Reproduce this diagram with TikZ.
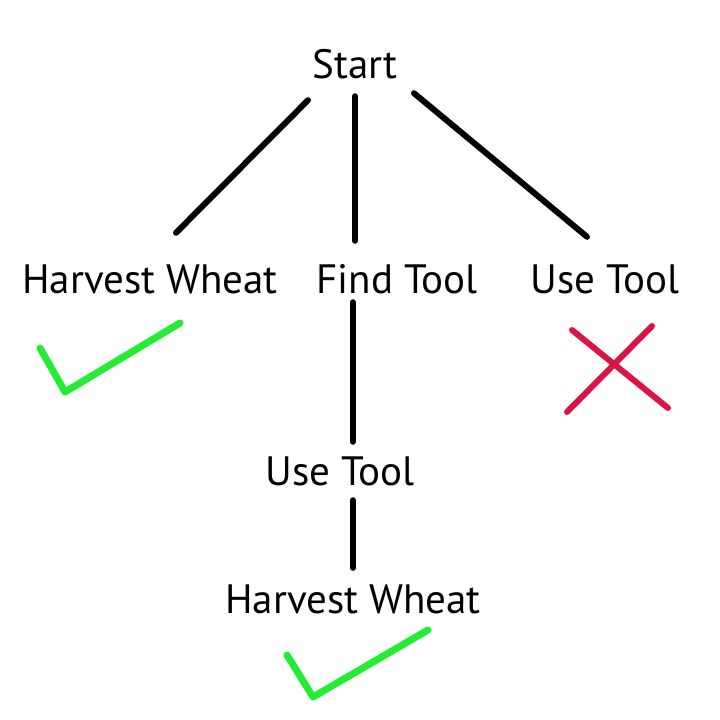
\documentclass[tikz,border=0pt]{standalone}
\usepackage{fontspec}
\setmainfont{PT Sans}
\usetikzlibrary{positioning,calc}
\definecolor{okgreen}{RGB}{34,236,51}
\definecolor{badred}{RGB}{220,20,70}

\begin{document}
\begin{tikzpicture}[x=1pt,y=-1pt,
    every node/.style={anchor=base,inner sep=0pt,text height=30pt,text depth=0pt,
      font=\fontsize{41}{41}\selectfont},
    branch/.style={line width=6pt,line cap=round,black},
    tick/.style={line width=7pt,line cap=round,line join=round,okgreen},
    cross/.style={line width=6pt,line cap=round,badred}]
    \useasboundingbox (0,0) rectangle (720,720);

    % levels of the tree
    \node (start) at (355,78) {Start};
    \node (hw1) at (150,293) {Harvest Wheat};
    \node (find) at (397,293) {Find Tool};
    \node (use1) at (605,293) {Use Tool};
    \node (use2) at (340,485) {Use Tool};
    \node (hw2) at (353,613) {Harvest Wheat};

    % connections
    \draw[branch] ([shift={(-47,22)}]start.south) -- ([shift={(26,-30)}]hw1.north);
    \draw[branch] ([shift={(0,18)}]start.south) -- ([shift={(0,-22)}]start.south |- find.north);
    \draw[branch] ([shift={(59,15)}]start.south) -- ([shift={(-18,-26)}]use1.north);
    \draw[branch] ([shift={(0,9)}]hw2 |- find.south) -- ([shift={(0,-13)}]hw2 |- use2.north);
    \draw[branch] ([shift={(0,15)}]hw2 |- use2.south) -- ([shift={(0,-15)}]hw2.north);

    % results
    \draw[tick] (40,348) -- (65,392) -- (180,323);
    \draw[tick] (287,655) -- (313,697) -- (428,630);
    \draw[cross] (572,330) -- (668,408);
    \draw[cross] (652,326) -- (567,412);
\end{tikzpicture}
\end{document}
